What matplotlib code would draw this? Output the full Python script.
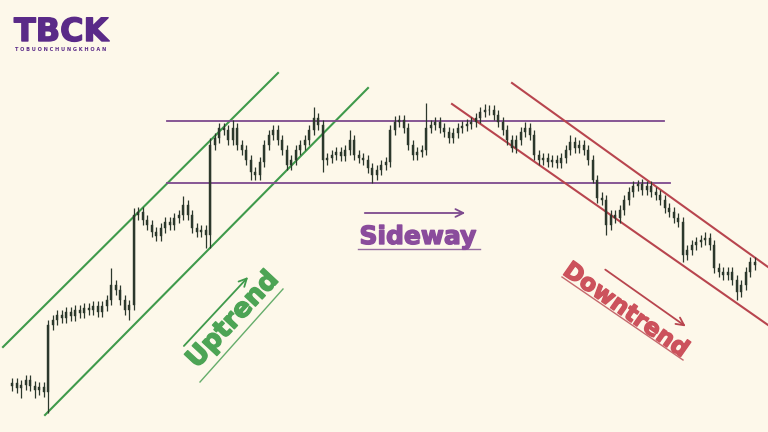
import numpy as np
import matplotlib.pyplot as plt
import matplotlib.patheffects as pe

# price path (one close per candle)
closes = [49, 44, 47, 52, 46, 42, 45, 40,
          107,
          112, 117, 114, 120, 116, 122, 119, 124, 122, 126, 120,
          126, 132, 147, 142, 132, 122, 127,
          217,
          220, 212, 207, 200, 196, 204, 210, 207, 214, 217, 227, 217, 204, 200, 202, 197,
          287,
          294, 304, 302, 292, 304, 287, 282, 272, 260, 257, 270, 287, 297, 302, 292, 282,
          267, 272, 282, 287, 292, 302, 314, 307, 272, 274, 277, 280, 276, 282, 292, 277,
          274, 272, 264, 257, 262, 267, 270, 302, 310, 312, 304, 287, 277, 280, 282, 304,
          307, 310, 304, 300, 294, 299, 304, 306, 308, 310, 314, 320, 322, 322, 317, 310,
          302, 292, 284, 292, 300, 304, 297, 277, 272, 274, 270, 272, 269, 274, 282, 290,
          284, 287, 282, 272, 252, 234, 232, 207, 217, 214, 222, 232, 240, 246, 248, 242,
          246, 240, 237, 232, 224, 220, 214, 210, 177, 182, 187, 190, 192, 194, 187, 164,
          160, 157, 160, 152, 140, 147, 160, 170, 167]
first_open = 46

# notable wick extremes (candle index: price)
spike_highs = {22: 164, 27: 224, 38: 236, 44: 294, 49: 312, 67: 325, 75: 302,
               85: 316, 92: 329, 105: 328, 114: 310, 124: 297, 131: 240,
               139: 252, 154: 200}
spike_lows = {2: 34, 5: 34, 8: 19, 26: 112, 43: 184, 44: 184, 53: 252, 69: 260,
              80: 249, 111: 280, 129: 249, 132: 197, 149: 170, 161: 132}

# guide lines (x, price)
green_upper = [(3, 85), (278, 359)]
green_lower = [(45, 17), (368, 344)]
purple_upper = [(167, 311), (664, 311)]
purple_lower = [(167, 249), (670, 249)]
red_upper = [(512, 349), (768, 165)]
red_lower = [(452, 328), (768, 107)]

green = '#3f9a4b'
purple = '#7d4a8e'
red = '#b8454e'
bg = '#fdf8ea'
candle_col = '#2c382c'

fig = plt.figure(figsize=(7.68, 4.32), dpi=100)
fig.patch.set_facecolor(bg)
ax = fig.add_axes([0, 0, 1, 1])
ax.set_facecolor(bg)
ax.set_xlim(0, 768)
ax.set_ylim(0, 432)
ax.axis('off')

# candles
closes = np.array(closes, dtype=float)
opens = np.concatenate([[first_open], closes[:-1]])
x = 12 + 4.5 * np.arange(len(closes))
highs = np.maximum(opens, closes) + 5
lows = np.minimum(opens, closes) - 5
for i, v in spike_highs.items():
    highs[i] = v
for i, v in spike_lows.items():
    lows[i] = v

ax.vlines(x, lows, highs, color=candle_col, lw=0.9, zorder=3)
ax.bar(x, closes - opens, bottom=opens, width=2.0, color=candle_col,
       edgecolor=candle_col, lw=0.3, zorder=3)

# channel lines
for seg, col, lw in [(green_upper, green, 1.5), (green_lower, green, 1.5),
                     (purple_upper, purple, 1.3), (purple_lower, purple, 1.3),
                     (red_upper, red, 1.5), (red_lower, red, 1.5)]:
    (x0, y0), (x1, y1) = seg
    ax.plot([x0, x1], [y0, y1], color=col, lw=lw, zorder=2)

# arrows
arrow_kw = dict(arrowstyle='->', lw=1.3, mutation_scale=14)
ax.annotate('', xy=(250, 157), xytext=(182, 84),
            arrowprops=dict(color=green, **arrow_kw))
ax.annotate('', xy=(468, 219), xytext=(362, 219),
            arrowprops=dict(color=purple, **arrow_kw))
ax.annotate('', xy=(688, 104), xytext=(603, 164),
            arrowprops=dict(color=red, **arrow_kw))

# labels with underline
def heavy(col):
    return [pe.withStroke(linewidth=1.0, foreground=col)]

ax.text(233, 112, 'Uptrend', color='#4da455', fontsize=19, fontweight='bold',
        rotation=47, ha='center', va='center', rotation_mode='anchor',
        path_effects=heavy('#4da455'))
ax.plot([200, 283], [50, 143], color=green, lw=1.0, alpha=0.8)

ax.text(418, 195, 'Sideway', color='#8a4c9c', fontsize=18, fontweight='bold',
        ha='center', va='center', path_effects=heavy('#8a4c9c'))
ax.plot([358, 480], [183, 183], color=purple, lw=1.0, alpha=0.8)

ax.text(626, 122, 'Downtrend', color='#cc525c', fontsize=17, fontweight='bold',
        rotation=-35, ha='center', va='center', rotation_mode='anchor',
        path_effects=heavy('#cc525c'))
ax.plot([562, 683], [155, 72], color=red, lw=1.0, alpha=0.8)

# logo
ax.text(14, 391, 'TBCK', color='#5a2a88', fontsize=23, fontweight='bold',
        ha='left', va='baseline', path_effects=heavy('#5a2a88'))
ax.text(15, 381, 'T O B U O N C H U N G K H O A N', color='#5a2a88',
        fontsize=3.6, fontweight='bold', ha='left', va='baseline')

fig.savefig('out.png', dpi=100, facecolor=bg)
